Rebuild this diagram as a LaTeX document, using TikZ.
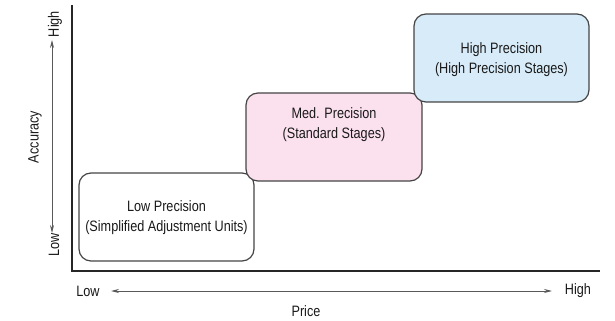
\documentclass[tikz,border=0pt]{standalone}
\usepackage{fontspec}
\setmainfont{Liberation Sans}[FakeStretch=0.84]
\usetikzlibrary{arrows.meta}
\definecolor{edge}{HTML}{454545}
\definecolor{pinkfill}{HTML}{FBE0EE}
\definecolor{bluefill}{HTML}{D7EBF8}
\tikzset{
  stagebox/.style={draw=edge, line width=0.9pt, rounded corners=9pt},
  lbl/.style={font=\fontsize{11.3pt}{15pt}\selectfont, text=black!90, align=center, inner sep=0pt},
  axisline/.style={black!85, line width=1.1pt},
  scaleline/.style={black!65, line width=0.7pt, -{Stealth[length=6pt,width=3pt]}},
}
\begin{document}
\begin{tikzpicture}[x=0.75pt,y=-0.75pt]
\useasboundingbox (0,0) rectangle (615,321);
% axes
\coordinate (top) at (72,5);
\coordinate (origin) at (72,271);
\coordinate (right) at (600,271);
\draw[axisline] (top) -- (origin) -- (right);
% vertical scale
\node[lbl, rotate=90] (yhigh) at (55,24) {High};
\node[lbl, rotate=90] (ylow) at (54,245) {Low};
\node[lbl, rotate=90] (ylab) at (35,137) {Accuracy};
\coordinate (ya) at (52,137);
\draw[scaleline] (ya) -- (52,40);
\draw[scaleline] (ya) -- (52,233);
% horizontal scale
\node[lbl] (xlow) at (88,291) {Low};
\node[lbl] (xhigh) at (578,291) {High};
\node[lbl] (xlab) at (306,311) {Price};
\coordinate (xa) at (330,291);
\draw[scaleline] (xa) -- (111,291);
\draw[scaleline] (xa) -- (552,291);
% boxes
\draw[stagebox, fill=white] (79,173) rectangle (254,261);
\node[lbl] (low) at (166.5,217.5) {Low Precision\\(Simplified Adjustment Units)};
\draw[stagebox, fill=pinkfill] (246,93) rectangle (422,181);
\node[lbl] (med) at (334,125) {Med. Precision\\(Standard Stages)};
\draw[stagebox, fill=bluefill] (414,14) rectangle (589,102);
\node[lbl] (high) at (501.5,59.5) {High Precision\\(High Precision Stages)};
\end{tikzpicture}
\end{document}
